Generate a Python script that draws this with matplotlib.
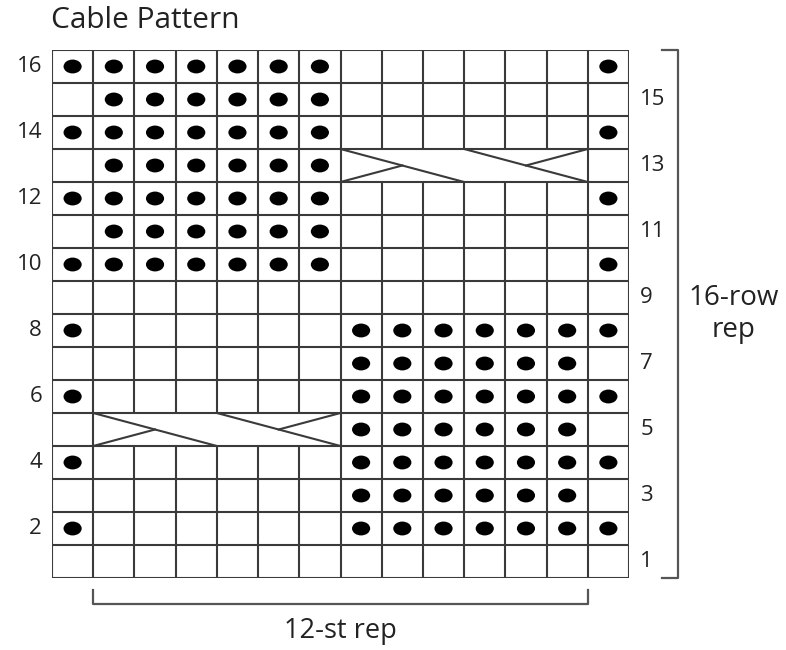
import matplotlib.pyplot as plt
from matplotlib.patches import Ellipse
from matplotlib.collections import LineCollection

plt.rcParams['font.family'] = ['Open Sans', 'DejaVu Sans']

# chart rows, top row (16) first; P = purl dot, . = knit, C = 3/3 cable
chart = [
    "PPPPPPP......P",  # 16
    ".PPPPPP.......",  # 15
    "PPPPPPP......P",  # 14
    ".PPPPPPCCCCCC.",  # 13
    "PPPPPPP......P",  # 12
    ".PPPPPP.......",  # 11
    "PPPPPPP......P",  # 10
    "..............",  # 9
    "P......PPPPPPP",  # 8
    ".......PPPPPP.",  # 7
    "P......PPPPPPP",  # 6
    ".CCCCCCPPPPPP.",  # 5
    "P......PPPPPPP",  # 4
    ".......PPPPPP.",  # 3
    "P......PPPPPPP",  # 2
    "..............",  # 1
]
left_rows = [16, 14, 12, 10, 8, 6, 4, 2]
right_rows = [15, 13, 11, 9, 7, 5, 3, 1]
title = "Cable Pattern"
row_rep = "16-row\nrep"
st_rep = "12-st rep"
rep_start, rep_end = 1, 13

n_rows = len(chart)
n_sts = len(chart[0])

W, H = 786, 650
fig = plt.figure(figsize=(W / 100, H / 100), dpi=100)
# grid box in pixels: x 52..629, y 50..578
ax = fig.add_axes([52 / W, 1 - 578 / H, (629 - 52) / W, (578 - 50) / H])
ax.set_xlim(0, n_sts)
ax.set_ylim(0, n_rows)
ax.axis('off')

line_col = '#3a3a3a'
lw = 1.5

# horizontal grid lines
ax.hlines(range(n_rows + 1), 0, n_sts, colors=line_col, linewidth=lw)

# vertical grid lines, skipping the inside of cables
segs = []
for i, row in enumerate(chart):
    y0 = n_rows - 1 - i
    for k in range(n_sts + 1):
        if 0 < k < n_sts and row[k - 1] == 'C' and row[k] == 'C':
            continue
        segs.append([(k, y0), (k, y0 + 1)])
ax.add_collection(LineCollection(segs, colors=line_col, linewidths=lw))

# purl dots and cable crossings
for i, row in enumerate(chart):
    y0 = n_rows - 1 - i
    for k, c in enumerate(row):
        if c == 'P':
            ax.add_patch(Ellipse((k + 0.5, y0 + 0.5), 0.44, 0.42,
                                 facecolor='black', edgecolor='none'))
    if 'C' in row:
        x0 = row.index('C')
        n = row.count('C')
        h = n / 2
        top, bot, mid = y0 + 1, y0, y0 + 0.5
        ax.plot([x0, x0 + h], [top, bot], color=line_col, lw=lw)
        ax.plot([x0 + h, x0 + n], [top, bot], color=line_col, lw=lw)
        ax.plot([x0, x0 + h / 2], [bot, mid], color=line_col, lw=lw)
        ax.plot([x0 + n, x0 + n - h / 2], [top, mid], color=line_col, lw=lw)

# row numbers
txt_col = '#222222'
for r in left_rows:
    ax.text(-0.24, r - 0.5, str(r), ha='right', va='center',
            fontsize=16, color=txt_col)
for r in right_rows:
    ax.text(14.27, r - 0.5, str(r), ha='left', va='center',
            fontsize=16, color=txt_col)

br_col = '#555555'
# 16-row repeat bracket
ax.plot([14.8, 15.2, 15.2, 14.8], [n_rows, n_rows, 0, 0],
        color=br_col, lw=1.6, clip_on=False)
ax.text(16.53, 8.0, row_rep, ha='center', va='center', fontsize=20,
        color=txt_col, linespacing=1.2)

# 12-st repeat bracket
ax.plot([rep_start, rep_start, rep_end, rep_end], [-0.36, -0.79, -0.79, -0.36],
        color=br_col, lw=1.6, clip_on=False)
ax.text((rep_start + rep_end) / 2, -1.6, st_rep, ha='center', va='center',
        fontsize=19.5, color=txt_col)

fig.text(51 / W, 1 - 21 / H, title, ha='left', va='center', fontsize=21.5,
         color=txt_col)

fig.savefig('out.png', dpi=100, facecolor='white')
